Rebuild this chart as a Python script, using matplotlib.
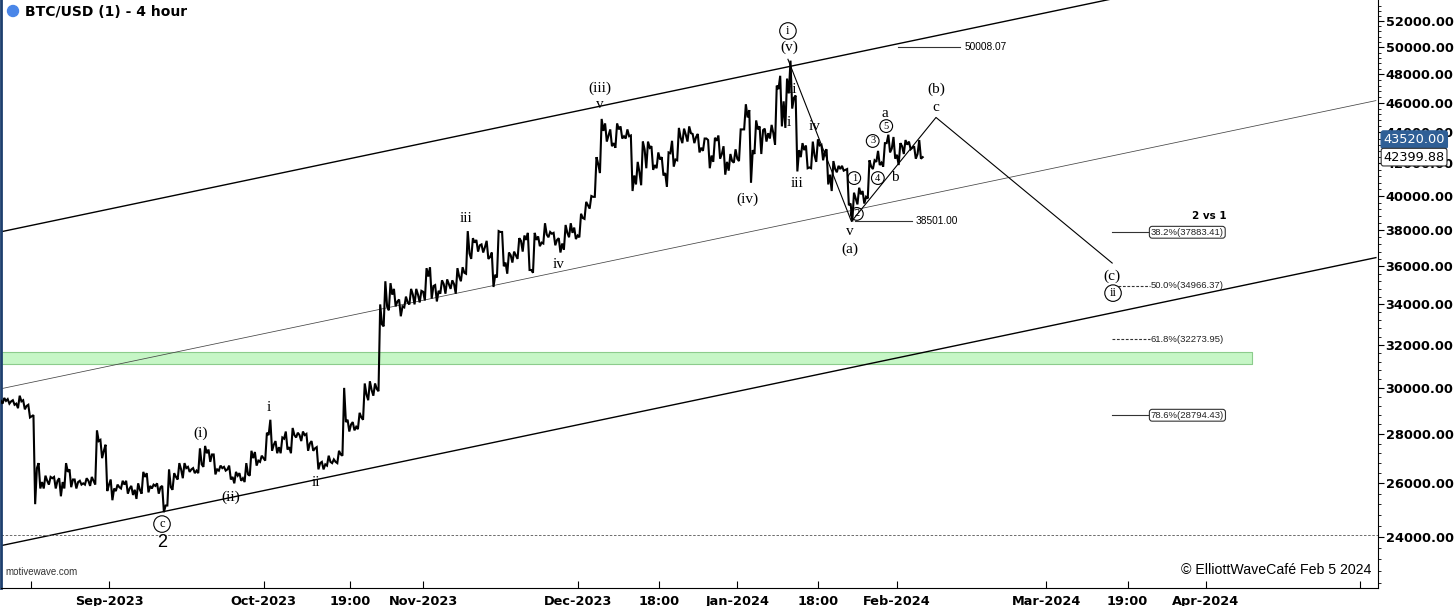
import numpy as np
import pandas as pd
import matplotlib
matplotlib.use("Agg")
import matplotlib.pyplot as plt
from matplotlib.patches import Ellipse
from matplotlib.ticker import FixedLocator, FuncFormatter, NullFormatter

BASE = pd.Timestamp("2023-09-01")


def dnum(s):
    # days since 2023-09-01
    return (pd.Timestamp(s) - BASE) / pd.Timedelta(days=1)


# %% daily BTC/USD bars, 2023-08-11 .. 2024-02-05
start = "2023-08-11"
lows = [
    29300, 29300, 29250, 29100, 29050, 28700, 25200, 25800, 25800, 25950, 25800,
    25500, 25800, 25850, 25800, 25950, 25950, 25900, 25950, 27000, 25700,  # aug
    25350, 25700, 25800, 25600, 25550, 25400, 25600, 25650, 25800, 25600,
    24900, 25150, 25750, 26150, 26200, 26450, 26400, 26400, 26650, 26850,
    26350, 26500, 26500, 26150, 26000, 26100, 26050, 26300, 26700, 26850,  # sep
    26900, 27300, 27200, 27200, 27350, 27200, 27850, 27700, 27300, 27300,
    26550, 26550, 26700, 26800, 26800, 27100, 28100, 28150, 28200, 28600,
    29450, 29650, 29850, 32900, 33700, 33900, 33400, 33850, 34000, 34000,
    34100,  # oct
    34200, 34300, 34150, 34550, 34550, 34800, 34550, 35200, 35600, 36400,
    36800, 36750, 36400, 34900, 35400, 36000, 35600, 36200, 36400, 36800,
    35800, 35650, 37100, 37250, 37600, 37150, 36750, 36900, 37600, 37500,  # nov
    37600, 38650, 39250, 39950, 41400, 43400, 43100, 43000, 43600, 43600,
    40300, 40700, 40650, 41700, 41600, 41700, 41250, 40550, 41800, 42200,
    43300, 43400, 43300, 42700, 42800, 41700, 42100, 42300, 41300, 41550,
    42050,  # dec
    42150, 44200, 40800, 42600, 42600, 43400, 43600, 43200, 44400, 44300,
    45600, 41500, 42400, 41700, 41700, 42100, 42200, 40700, 40300, 41450,
    41550, 39450, 38500, 39500, 39550, 39850, 41650, 41900, 41800, 42700,
    42300,  # jan
    41900, 42600, 42900, 42300, 42300,  # feb
]
highs = [
    29550, 29500, 29450, 29650, 29450, 29250, 28800, 26800, 26300, 26250, 26250,
    26200, 26800, 26550, 26150, 26100, 26200, 26250, 28150, 27750, 27550,
    26150, 25950, 26100, 26100, 25900, 26000, 26450, 26400, 25950, 26000,
    25900, 26550, 26400, 26800, 26800, 26650, 26600, 27400, 27500, 27350,
    27150, 26700, 26650, 26700, 26450, 26400, 26800, 27300, 27250, 27100,
    28050, 28600, 27700, 27850, 28100, 28250, 28050, 28100, 28000, 27700,
    27450, 26850, 27100, 26950, 27300, 30000, 28600, 28500, 28900, 30200,
    30300, 30200, 34000, 35200, 35100, 34800, 34250, 34400, 34800, 34800,
    34700,
    35900, 35950, 35000, 35250, 35300, 35250, 35900, 35950, 37950, 37550,
    37450, 37200, 37400, 36750, 37950, 37900, 36750, 36800, 37550, 37700,
    37850, 37850, 37650, 38400, 37900, 37850, 37550, 38300, 38400, 38150,
    38950, 39650, 40000, 42400, 44900, 44600, 44200, 44600, 44400, 44200,
    43800, 42100, 43400, 43400, 43100, 42700, 42400, 42700, 43450, 44300,
    44250, 44400, 43900, 43900, 43600, 43500, 43650, 43800, 43100, 42600,
    42900,
    44200, 45900, 45500, 44800, 44400, 44250, 44500, 47200, 47900, 47700,
    49000, 46500, 43300, 43150, 43400, 43550, 43200, 42900, 42150, 41850,
    41850, 41650, 40200, 40500, 40300, 42200, 42200, 42800, 43300, 43850,
    43700,
    43300, 43500, 43400, 43100, 43500,
]
closes = [
    29420, 29400, 29300, 29400, 29200, 28750, 26600, 26050, 26100, 26200, 26100,
    26050, 26450, 26150, 26050, 26000, 26100, 26100, 27700, 27300, 25950,
    25800, 25850, 25950, 25800, 25750, 25750, 26250, 25900, 25900, 25850,
    25150, 25850, 26250, 26550, 26600, 26550, 26500, 26750, 27200, 27150,
    26550, 26600, 26550, 26250, 26300, 26200, 26350, 27000, 26900, 27000,
    27950, 27550, 27450, 27800, 27450, 27950, 27950, 27950, 27600, 27400,
    26800, 26750, 26850, 26850, 27150, 28500, 28400, 28300, 28700, 29700,
    29900, 29950, 33000, 33900, 34500, 34150, 33900, 34100, 34500, 34500,
    34650,
    35450, 34950, 34700, 35050, 35050, 35050, 35450, 35650, 36700, 37300,
    37150, 37050, 36500, 35550, 37900, 36200, 36600, 36600, 37400, 37450,
    35800, 37450, 37300, 37750, 37800, 37450, 37250, 37850, 37850, 37700,
    38700, 39450, 39950, 41950, 44100, 43800, 43300, 44200, 43750, 43750,
    41250, 41450, 42900, 43000, 41900, 42250, 41400, 42650, 42250, 43650,
    43850, 43950, 43700, 43000, 43600, 42500, 43450, 42600, 42100, 42150,
    42300,
    44200, 45000, 42850, 44200, 44150, 43950, 43950, 46950, 46100, 46650,
    46350, 42850, 42850, 41750, 42500, 43150, 42750, 41300, 41650, 41650,
    41600, 39550, 39850, 40100, 39950, 41800, 42100, 42050, 43300, 42950,
    42550,
    43100, 43200, 43000, 42600, 42400,
]

# channel lines (two anchor points each)
chan_dates = ["2023-08-11", "2024-05-04"]
upper_ch = [37910, 58400]
middle_ch = [29960, 46150]
lower_ch = [23680, 36470]

# projected path (v) -> (a) -> (b)/c -> (c)
proj_dates = ["2024-01-10 20:00", "2024-01-23 04:00", "2024-02-08 14:00", "2024-03-13 19:00"]
proj_prices = [49100, 38501, 45000, 36175]

# fibonacci targets for wave ii
fib_pct = ["38.2%", "50.0%", "61.8%", "78.6%"]
fib_values = [37883.41, 34966.37, 32273.95, 28794.43]

# marked levels
hi_level = 50008.07
lo_level = 38501.00
support_zone = (31100, 31650)
old_low = 24070
last_high = 43520.00
last_price = 42399.88

# wave labels
wave_text = ["(iii)", "v", "(v)", "ii", "i", "iii", "iv", "(iv)", "v", "(a)",
             "a", "b", "(b)", "c", "(c)", "iii", "iv", "(i)", "i", "ii", "(ii)"]
wave_dates = ["2023-12-05 08:00", "2023-12-05 08:00", "2024-01-11 01:00", "2024-01-11 19:00",
              "2024-01-11 01:00", "2024-01-12 14:00", "2024-01-16 02:00", "2024-01-02 22:00",
              "2024-01-22 22:00", "2024-01-22 22:00", "2024-01-29 17:00", "2024-01-31 14:00",
              "2024-02-08 14:00", "2024-02-08 14:00", "2024-03-13 19:00", "2023-11-09 07:00",
              "2023-11-27 05:00", "2023-09-18 17:00", "2023-10-02 02:00", "2023-10-11 05:00",
              "2023-09-24 17:00"]
wave_prices = [47030, 45850, 50010, 46960, 44690, 40780, 44360, 39820, 37900, 36950,
               45300, 41150, 46960, 45710, 35470, 38700, 36070, 28040, 29150, 26050, 25470]

circ_text = ["i", "1", "2", "3", "4", "5", "ii", "c"]
circ_dates = ["2024-01-10 20:00", "2024-01-23 17:00", "2024-01-24 05:00", "2024-01-27 07:00",
              "2024-01-28 07:00", "2024-01-29 22:00", "2024-03-13 23:00", "2023-09-11 07:00"]
circ_prices = [51230, 41090, 38940, 43440, 41090, 44420, 34580, 24460]

xtick_dates = ["2023-08-16 19:00", "2023-09-01", "2023-10-01", "2023-10-17 19:00", "2023-11-01",
               "2023-12-01", "2023-12-16 18:00", "2024-01-01", "2024-01-16 18:00", "2024-02-01",
               "2024-03-01", "2024-03-16 19:00", "2024-04-01", "2024-05-01"]
xtick_labels = ["", "Sep-2023", "Oct-2023", "19:00", "Nov-2023", "Dec-2023", "18:00",
                "Jan-2024", "18:00", "Feb-2024", "Mar-2024", "19:00", "Apr-2024", ""]

# %% build the bar path (open -> extremes -> close for each day)
days = dnum(start) + np.arange(len(closes))
opens = [closes[0]] + closes[:-1]
px, py = [], []
for d, o, h, l, c in zip(days, opens, highs, lows, closes):
    first, second = (l, h) if c >= o else (h, l)
    px += [d, d + 0.33, d + 0.66]
    py += [o, first, second]
px.append(days[-1] + 1)
py.append(closes[-1])

# %% figure
W, H = 1456, 606
fig = plt.figure(figsize=(W / 100, H / 100), dpi=100)
ax = fig.add_axes([1 / W, 18 / H, 1377 / W, 588 / H])
serif = "Liberation Serif"
sans = "Liberation Sans"

ax.plot(px, py, color="black", lw=1.5, zorder=4, solid_joinstyle="miter")

cd = [dnum(s) for s in chan_dates]
ax.plot(cd, upper_ch, color="black", lw=1.0)
ax.plot(cd, middle_ch, color="#444444", lw=0.55)
ax.plot(cd, lower_ch, color="black", lw=1.0)

ax.plot([dnum(s) for s in proj_dates], proj_prices, color="black", lw=0.8, zorder=5)

xl = (dnum("2023-09-01") - 108 / 5.15, 1269 / 5.15)
ax.fill_between([xl[0], dnum("2024-04-09 22:00")], support_zone[0], support_zone[1],
                facecolor="#c6f6c6", edgecolor="#8ccc8c", lw=0.8, zorder=1)
ax.axhline(old_low, color="#555555", lw=0.6, ls=(0, (3, 2)))

# marked levels
ax.plot([dnum("2024-02-01 05:00"), dnum("2024-02-13 05:00")], [hi_level] * 2, color="#333333", lw=0.8)
ax.text(dnum("2024-02-14 05:00"), hi_level, f"{hi_level:.2f}", fontsize=7.3, family=sans, va="center")
ax.plot([dnum("2024-01-23 22:00"), dnum("2024-02-03 22:00")], [lo_level] * 2, color="#333333", lw=0.8)
ax.text(dnum("2024-02-04 17:00"), lo_level, f"{lo_level:.2f}", fontsize=7.3, family=sans, va="center")

# fib targets
fib_solid = [True, False, False, True]
fib_start = ["2024-03-13 19:00", "2024-03-14 22:00", "2024-03-13 19:00", "2024-03-13 19:00"]
for pct, val, solid, s in zip(fib_pct, fib_values, fib_solid, fib_start):
    ax.plot([dnum(s), dnum("2024-03-21 02:00")], [val, val], color="#333333", lw=0.8,
            ls="-" if solid else (0, (2.5, 1.5)))
    box = dict(boxstyle="round,pad=0.15,rounding_size=0.3", fc="white", ec="#333333", lw=0.8) if solid else None
    ax.text(dnum("2024-03-21 07:00"), val, f"{pct}({val:.2f})", fontsize=6.8, family=sans,
            va="center", ha="left", bbox=box, color="#222222")
ax.text(dnum("2024-04-01 14:00"), 38820, "2 vs 1", fontsize=7.5, family="DejaVu Sans",
        weight="bold", ha="center", va="center")

# wave labels
for t, s, p in zip(wave_text, wave_dates, wave_prices):
    ax.text(dnum(s), p, t, family=serif, fontsize=11, ha="center", va="center", zorder=6)
for t, s, p in zip(circ_text, circ_dates, circ_prices):
    fs = 7.5 if t.isdigit() else 9
    ax.text(dnum(s), p, t, family=serif, fontsize=fs, ha="center", va="center", zorder=6,
            bbox=dict(boxstyle="circle,pad=0.18", fc="none", ec="black", lw=0.8))
ax.text(dnum("2023-09-11 07:00"), 23800, "2", family=sans, fontsize=13, ha="center", va="center")

# %% axes
ax.set_yscale("log")
ax.set_xlim(*xl)
ax.set_ylim(22224, 53664)
ax.yaxis.set_major_locator(FixedLocator(np.arange(24000, 53000, 2000)))
ax.yaxis.set_minor_locator(FixedLocator(np.arange(22400, 53600, 400)))
ax.yaxis.set_major_formatter(FuncFormatter(lambda v, pos: f"{v:.2f}"))
ax.yaxis.set_minor_formatter(NullFormatter())
ax.yaxis.tick_right()
ax.tick_params(axis="y", which="major", direction="out", length=4, pad=1.5, labelsize=9.3)
ax.tick_params(axis="y", which="minor", direction="out", length=2)
for lab in ax.get_yticklabels():
    lab.set_fontweight("bold")

ax.set_xticks([dnum(s) for s in xtick_dates])
ax.set_xticklabels(xtick_labels, fontsize=9.3, fontweight="bold")
ax.tick_params(axis="x", direction="in", length=5, pad=5)

ax.spines["top"].set_visible(False)
ax.spines["left"].set_color("#1d3f6e")
ax.spines["left"].set_linewidth(2)

# last-price boxes on the price axis
ax.text(1.004, last_high, f"{last_high:.2f}", transform=ax.get_yaxis_transform(), ha="left",
        va="center", color="white", fontsize=9.3, zorder=10, clip_on=False,
        bbox=dict(boxstyle="round,pad=0.18", fc="#2f5f96", ec="#2f5f96"))
ax.text(1.004, last_price, f"{last_price:.2f}", transform=ax.get_yaxis_transform(), ha="left",
        va="center", color="black", fontsize=9.3, zorder=10, clip_on=False,
        bbox=dict(boxstyle="round,pad=0.18", fc="white", ec="#333333", lw=0.8))

# header, watermark, copyright
fig.add_artist(Ellipse((13 / W, 1 - 11 / H), 11 / W, 11 / H, color="#4a86e8"))
fig.text(25 / W, 1 - 12 / H, "BTC/USD (1) - 4 hour", fontsize=10, weight="bold", va="center")
ax.text(0.003, 0.018, "motivewave.com", transform=ax.transAxes, fontsize=7, family=sans,
        color="#333333", va="bottom")
ax.text(0.995, 0.018, "© ElliottWaveCafé Feb 5 2024", transform=ax.transAxes, fontsize=10.2,
        family=sans, ha="right", va="bottom")

fig.savefig("out.png", dpi=100)
